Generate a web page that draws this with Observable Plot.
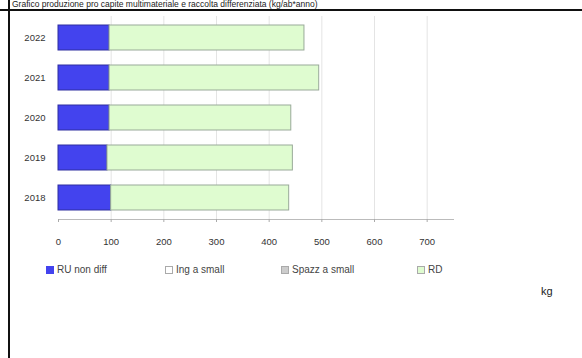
<!DOCTYPE html>
<html>
<head>
<meta charset="utf-8">
<script src="https://cdn.jsdelivr.net/npm/d3@7"></script>
<script src="https://cdn.jsdelivr.net/npm/@observablehq/plot@0.6"></script>
<style>
  html, body { margin: 0; padding: 0; background: #fff; }
  #wrap { position: relative; width: 582px; height: 358px; overflow: hidden; background: #fff; font-family: "Liberation Sans", Arial, sans-serif; }
  #title { position: absolute; left: 12px; top: 0px; font-size: 8.5px; line-height: 9px; color: #222; white-space: nowrap; }
  #hline { position: absolute; left: 0; top: 9px; width: 582px; height: 2px; background: #111; }
  #vline { position: absolute; left: 8px; top: 0; width: 2px; height: 358px; background: #111; }
  #chart { position: absolute; left: 0; top: 0; }
  .leg { position: absolute; top: 264px; font-size: 10px; color: #444; display: flex; align-items: center; white-space: nowrap; }
  .sw { width: 8px; height: 8px; margin-right: 3px; box-sizing: border-box; }
  #kg { position: absolute; left: 541px; top: 285px; font-size: 11px; color: #222; }
</style>
</head>
<body>
<div id="wrap">
  <div id="title">Grafico produzione pro capite multimateriale e raccolta differenziata (kg/ab*anno)</div>
  <div id="chart"></div>
  <div id="hline"></div>
  <div id="vline"></div>
  <div id="legend"></div>
  <div id="kg">kg</div>
</div>
<script>
// Data (kg per inhabitant per year)
const years = ["2022", "2021", "2020", "2019", "2018"];
const ruNonDiff = [97, 97, 97, 93, 100];
const ingSmall = [0, 0, 0, 0, 0];
const spazzSmall = [0, 0, 0, 0, 0];
const rd = [370, 398, 345, 352, 338];
const seriesNames = ["RU non diff", "Ing a small", "Spazz a small", "RD"];
const seriesFill = ["#4343ee", "#ffffff", "#cccccc", "#dffcd0"];
const seriesStroke = ["#2e2ea0", "#999999", "#999999", "#99aa99"];
const xTicks = [0, 100, 200, 300, 400, 500, 600, 700];

const seriesValues = [ruNonDiff, ingSmall, spazzSmall, rd];
const rows = [];
years.forEach((y, i) => {
  seriesNames.forEach((s, j) => {
    rows.push({year: y, series: s, value: seriesValues[j][i]});
  });
});

const chart = Plot.plot({
  width: 582,
  height: 358,
  marginLeft: 58,
  marginRight: 129,
  marginTop: 16,
  marginBottom: 139,
  style: {fontFamily: "Liberation Sans, Arial, sans-serif", fontSize: "9.5px", color: "#333", background: "transparent"},
  x: {domain: [0, 750], ticks: xTicks, label: null},
  y: {domain: years, paddingInner: 0.379, paddingOuter: 0.211, label: null},
  color: {domain: seriesNames, range: seriesFill},
  marks: [
    Plot.ruleX(xTicks.slice(1), {stroke: "#e4e4e4", strokeWidth: 1}),
    Plot.barX(rows, Plot.stackX({
      y: "year",
      x: "value",
      fill: "series",
      stroke: d => seriesStroke[seriesNames.indexOf(d.series)],
      strokeWidth: 1,
      order: seriesNames,
      filter: d => d.value > 0
    })),
    Plot.frame({anchor: "bottom", stroke: "#bbb"}),
    Plot.axisX({ticks: xTicks, tickSize: 3, tickPadding: 16, stroke: "#aaa", fill: "#333", label: null}),
    Plot.axisY({tickSize: 0, tickPadding: 13, fill: "#333", label: null})
  ]
});
document.getElementById("chart").appendChild(chart);

// Legend
const legendX = [46, 165, 281, 417];
const legend = document.getElementById("legend");
seriesNames.forEach((s, j) => {
  const item = document.createElement("div");
  item.className = "leg";
  item.style.left = legendX[j] + "px";
  const sw = document.createElement("div");
  sw.className = "sw";
  sw.style.background = seriesFill[j];
  sw.style.border = "1px solid " + (j === 0 ? "#4343ee" : "#aaa");
  const t = document.createElement("span");
  t.textContent = s;
  item.appendChild(sw);
  item.appendChild(t);
  legend.appendChild(item);
});
</script>
</body>
</html>
